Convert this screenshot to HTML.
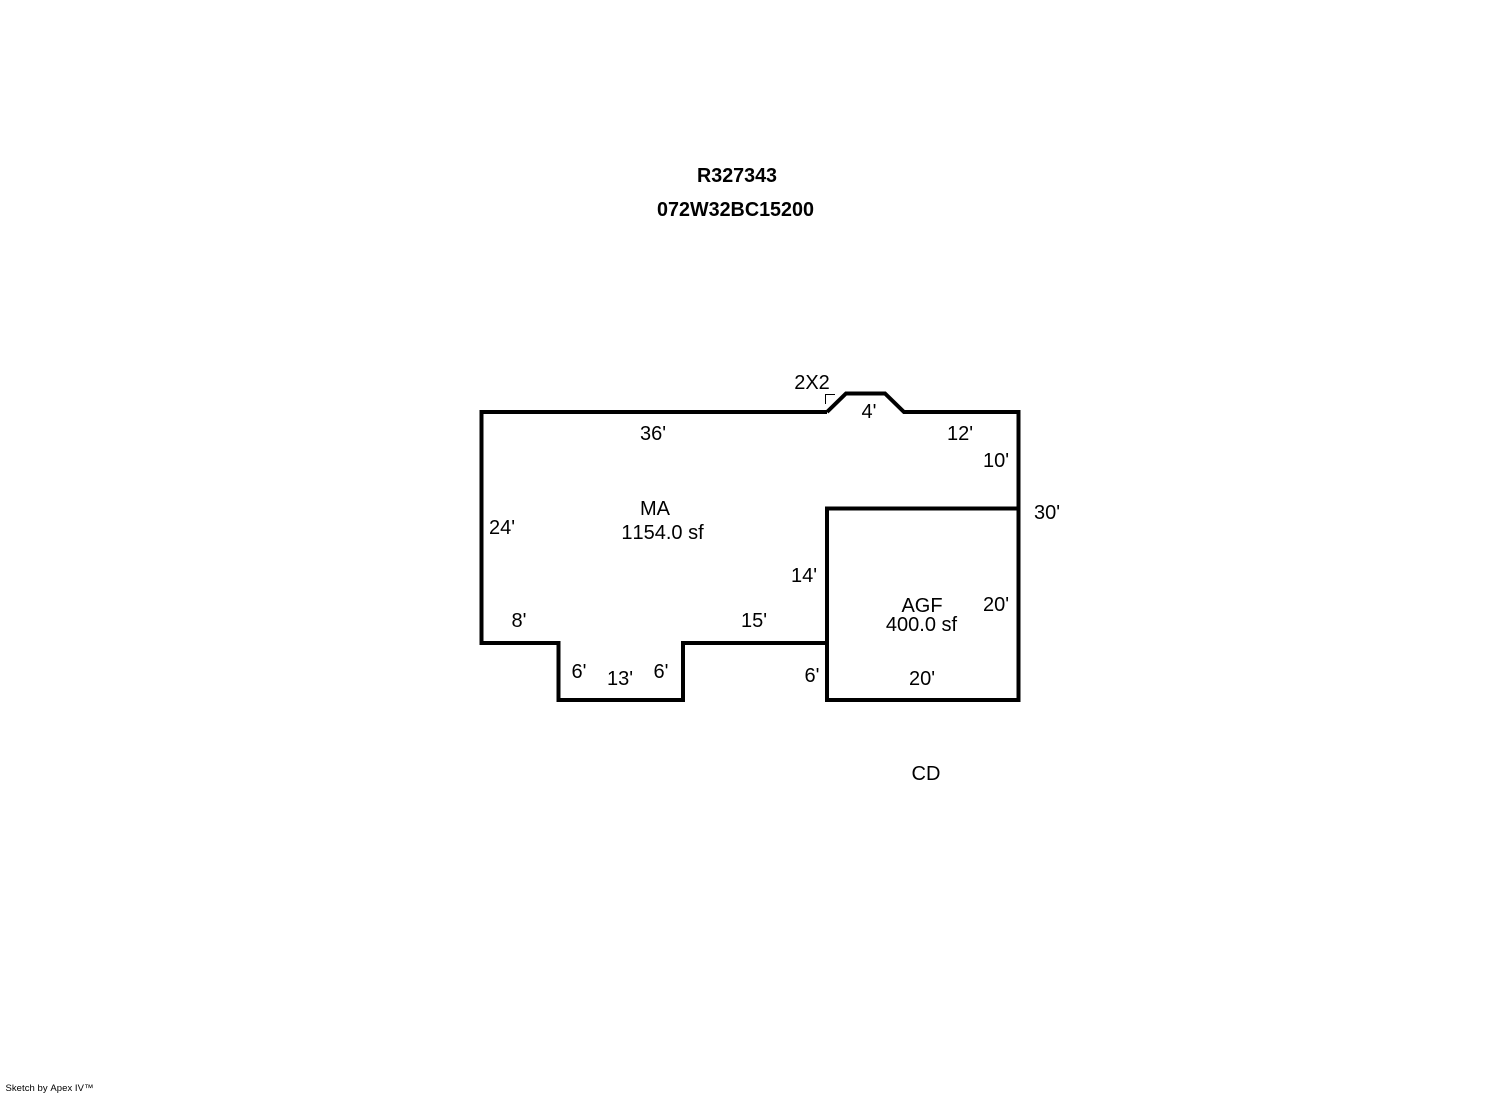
<!DOCTYPE html>
<html>
<head>
<meta charset="utf-8">
<style>
html,body{margin:0;padding:0;background:#fff;}
svg{display:block;}
text{font-family:"Liberation Sans",Arial,sans-serif;font-size:20px;fill:#000;text-anchor:middle;font-kerning:none;}
.b{font-weight:bold;}
</style>
</head>
<body>
<svg width="1492" height="1094" viewBox="0 0 1492 1094" xmlns="http://www.w3.org/2000/svg">
<rect width="1492" height="1094" fill="#fff"/>
<g fill="none" stroke="#000" stroke-width="4" stroke-linejoin="miter">
<path d="M827 412 L846 393.500 L885 393.500 L904 412 L1018.500 412 L1018.500 700 L827 700 L827 508.500 L1018.500 508.500"/>
<path d="M827 412 L481.500 412 L481.500 643 L558.500 643 L558.500 700 L683 700 L683 643 L827 643"/>
</g>
<path d="M825.500 404 V394.500 H835" fill="none" stroke="#000" stroke-width="1"/>
<text class="b" x="737" y="182" textLength="80" lengthAdjust="spacingAndGlyphs">R327343</text>
<text class="b" x="735.500" y="216" textLength="157" lengthAdjust="spacingAndGlyphs">072W32BC15200</text>
<text x="812" y="389">2X2</text>
<text x="869" y="418">4'</text>
<text x="653" y="440">36'</text>
<text x="960" y="440">12'</text>
<text x="996" y="467">10'</text>
<text x="1047" y="519">30'</text>
<text x="655" y="515">MA</text>
<text x="662.500" y="539">1154.0 sf</text>
<text x="502" y="534">24'</text>
<text x="804" y="582">14'</text>
<text x="922" y="612">AGF</text>
<text x="921.500" y="631">400.0 sf</text>
<text x="996" y="611">20'</text>
<text x="519" y="627">8'</text>
<text x="754" y="627">15'</text>
<text x="579" y="678">6'</text>
<text x="620" y="685">13'</text>
<text x="661" y="678">6'</text>
<text x="812" y="682">6'</text>
<text x="922" y="685">20'</text>
<text x="926" y="780">CD</text>
<text x="49.500" y="1091" style="font-size:9.500px" textLength="88" lengthAdjust="spacing">Sketch by Apex IV™</text>
</svg>
</body>
</html>
